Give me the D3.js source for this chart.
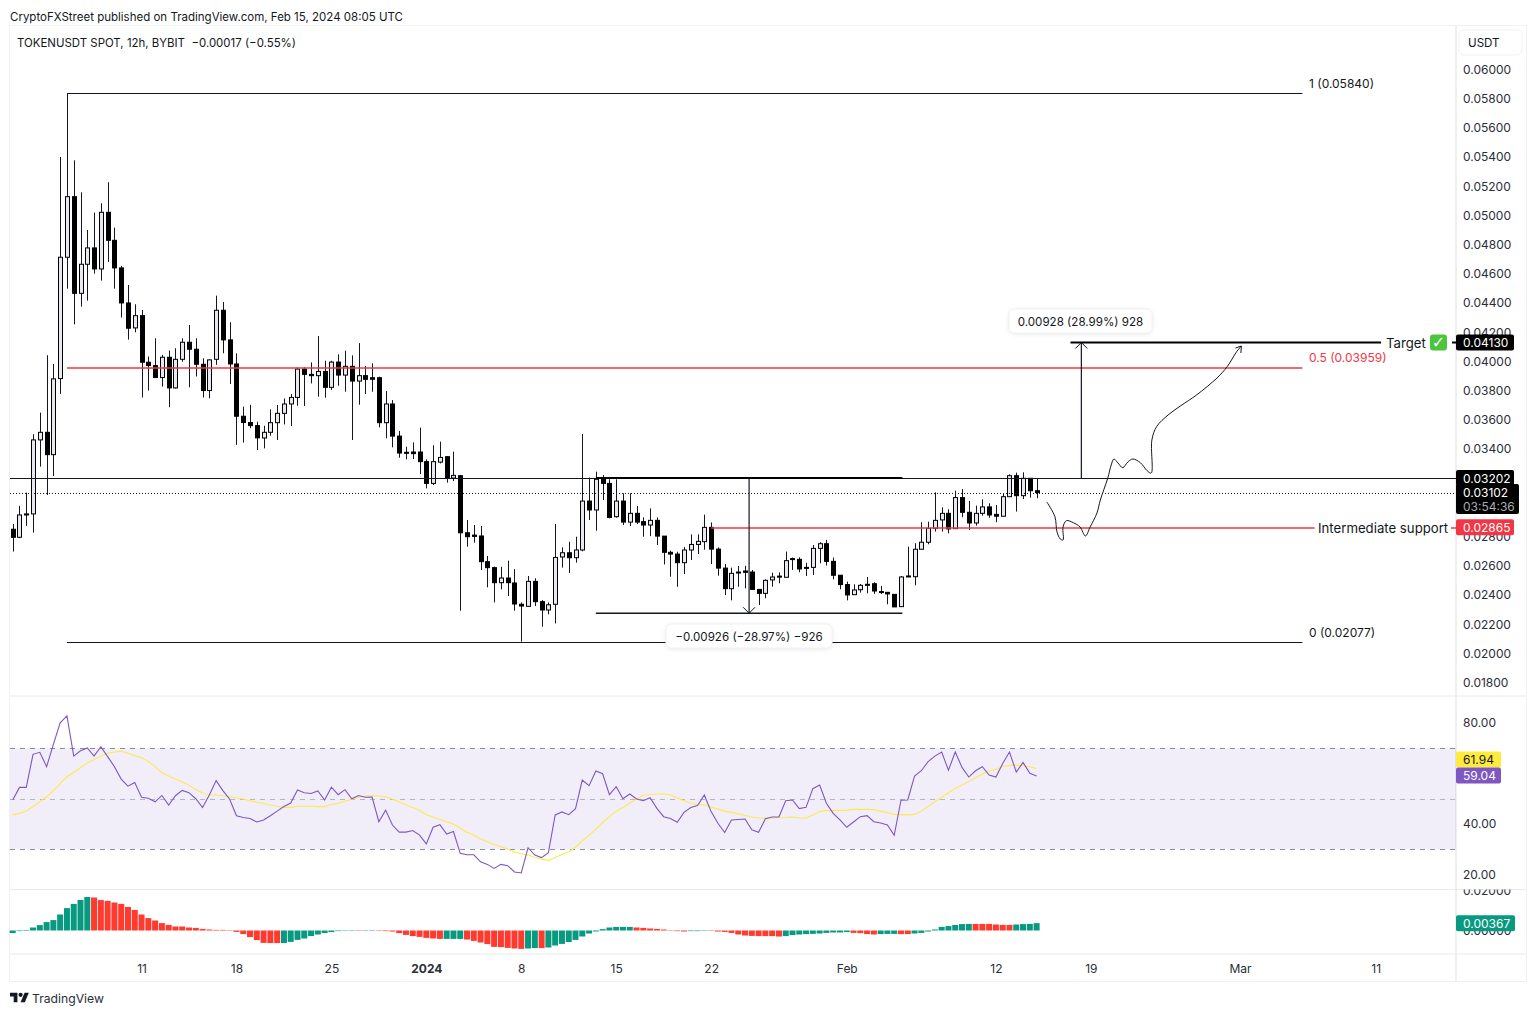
<!DOCTYPE html>
<html lang="en">
<head>
<meta charset="UTF-8">
<title>TOKENUSDT 12h</title>
<script src="https://cdn.jsdelivr.net/npm/d3@7"></script>
<style>
	html, body { margin: 0; padding: 0; background: #fff; }
	svg { display: block; }
	text { font-family: Inter, "Noto Sans", sans-serif; fill: #131722; }
	.axis text { font-size: 12px; fill: #2a2e39; font-family: Inter, "Noto Sans", sans-serif; }
	.axis path { display: none; }
</style>
</head>
<body>
<svg id="chart" width="1536" height="1015"></svg>
<script>
// candles, in ticks of 0.00001
var opens = [2851,2796,2949,2956,3463,3515,3362,3883,4714,5129,4467,4666,4778,4634,5022,4830,4641,4401,4230,4314,3995,3972,3890,4029,3819,4015,4132,4084,3981,3801,
	4015,4351,4148,3983,3625,3582,3561,3476,3515,3581,3645,3709,3754,3948,3912,3903,3932,3823,3996,3907,3967,3866,3903,3889,3889,3581,3709,3489,3378,3380,
	3380,3314,3165,3311,3348,3202,3218,2827,2811,2805,2629,2588,2485,2517,2483,2337,2323,2494,2355,2298,2337,2661,2690,2656,2709,3044,2983,3199,3165,2937,
	3044,2900,2960,2903,2880,2912,2804,2693,2681,2622,2709,2747,2766,2864,2715,2585,2444,2551,2565,2558,2439,2412,2504,2530,2522,2650,2645,2590,2590,2720,
	2752,2631,2536,2472,2403,2437,2474,2478,2424,2419,2405,2321,2531,2526,2714,2762,2857,2915,2960,2855,3068,2967,2894,2960,3004,2953,2940,3074,3218,3081,3200,3115];
var highs = [2887,3011,3102,3502,3650,4043,3983,5401,5415,5378,5159,4901,5020,5084,5228,4917,4655,4524,4392,4353,4034,4159,4045,4075,4091,4159,4250,4159,4022,4015,
	4451,4408,4269,4056,3691,3703,3588,3560,3672,3702,3747,3777,3960,3960,3994,4174,4005,4005,4049,4074,4042,4126,3969,3987,3896,3798,3736,3524,3416,3446,
	3547,3330,3426,3451,3353,3382,3222,2914,2880,2873,2668,2595,2594,2636,2578,2350,2531,2515,2366,2350,2887,2727,2766,2800,3503,3206,3245,3222,3193,3193,
	3097,3097,3010,2932,2994,2932,2804,2704,2697,2729,2816,2816,2951,2898,2727,2613,2588,2599,2601,2572,2439,2508,2554,2556,2698,2657,2659,2622,2743,2762,
	2778,2657,2538,2492,2474,2476,2524,2488,2462,2419,2405,2531,2732,2755,2899,2903,3104,3001,2988,3115,3127,3045,3013,3056,3029,3017,3097,3227,3239,3241,3200,3200];
var lows = [2698,2790,2874,2828,3280,3086,3216,3778,4499,4255,4376,4417,4602,4554,4682,4499,4301,4150,4200,3753,3801,3890,3828,3687,3815,3999,3824,3897,3753,3748,
	3977,4056,3846,3429,3445,3543,3394,3405,3492,3462,3569,3558,3697,3695,3850,3759,3752,3805,3834,3793,3462,3704,3777,3793,3549,3474,3412,3341,3330,3332,
	3229,3131,3154,3302,3170,3181,2293,2732,2759,2572,2453,2350,2439,2394,2293,2081,2320,2325,2184,2268,2206,2588,2551,2622,2700,2914,2841,3051,2926,2930,
	2880,2873,2887,2800,2804,2743,2610,2526,2457,2544,2640,2681,2711,2613,2533,2400,2364,2457,2446,2435,2332,2378,2458,2481,2522,2572,2556,2531,2538,2618,
	2602,2508,2440,2364,2403,2417,2412,2408,2408,2337,2319,2321,2526,2467,2714,2748,2835,2835,2823,2853,2933,2846,2876,2944,2930,2899,2940,3074,2972,3058,3068,3063];
var closes = [2796,2949,2956,3463,3515,3362,3881,4714,5129,4467,4666,4778,4634,5022,4830,4641,4401,4228,4314,3995,3972,3890,4029,3819,4015,4132,4084,3981,3801,4011,
	4351,4148,3983,3625,3582,3561,3477,3515,3581,3645,3709,3754,3948,3912,3903,3932,3823,3996,3907,3967,3866,3903,3878,3878,3581,3709,3489,3373,3373,3369,
	3314,3165,3314,3343,3202,3220,2827,2800,2802,2629,2588,2485,2517,2485,2339,2325,2494,2355,2298,2334,2658,2690,2656,2709,3044,2983,3193,3165,2932,3044,
	2900,2960,2900,2880,2912,2804,2693,2681,2622,2709,2747,2768,2864,2715,2585,2444,2549,2558,2556,2439,2412,2501,2524,2526,2636,2646,2579,2586,2720,2752,
	2631,2536,2472,2401,2435,2467,2470,2428,2420,2408,2319,2524,2526,2714,2762,2857,2912,2960,2853,3068,2967,2894,2960,3004,2949,2940,3074,3218,3081,3200,3115,3102];

var rsiValues = [49.5,54.5,54.5,67.6,68.4,62.7,71.5,80.1,82.8,66.9,69.0,70.1,66.9,70.6,66.7,62.7,57.8,55.0,56.4,50.6,50.2,48.8,51.3,47.5,51.2,53.3,52.4,50.0,46.5,51.5,
	57.2,53.2,49.8,43.3,42.6,42.2,40.8,41.6,43.3,45.1,46.9,48.3,53.5,52.4,52.1,53.1,49.5,54.6,51.6,53.6,50.0,51.3,50.6,50.7,40.9,45.5,39.6,36.8,36.8,37.4,
	35.6,32.1,38.7,39.7,36.0,37.0,28.4,27.8,27.8,25.0,24.0,22.4,24.0,23.5,21.0,20.6,30.6,27.7,26.7,28.6,43.6,44.8,43.7,46.1,57.4,55.2,61.0,59.9,51.6,54.8,
	50.0,51.9,49.9,49.2,50.4,46.2,42.9,42.2,40.7,44.6,46.5,47.3,51.5,44.9,40.3,36.6,41.6,41.8,42.0,37.7,36.7,42.1,42.8,42.8,49.2,49.5,46.1,46.6,54.0,55.4,
	48.2,44.2,41.6,38.7,40.8,42.9,43.3,40.9,40.4,39.6,35.5,49.4,49.5,59.0,61.1,64.7,66.9,68.5,61.3,68.5,62.4,58.6,61.1,62.7,59.4,58.6,64.0,68.5,60.6,64.4,60.1,59.04];
var rsiAverage = [43.6,44.2,45.1,46.9,48.8,50.8,53.1,56.1,58.7,60.5,62.3,64.2,65.5,66.8,68.0,68.5,68.8,68.0,67.0,66.3,64.7,62.7,60.3,59.0,57.8,56.6,55.4,53.7,52.3,51.6,
	51.5,51.2,50.8,50.3,49.9,49.2,48.6,48.2,47.5,47.0,46.6,46.6,47.0,47.1,47.0,46.9,46.9,47.7,48.2,49.0,49.8,50.6,51.1,51.2,51.1,50.8,49.9,48.7,47.5,46.5,
	45.4,43.7,42.8,41.8,40.9,39.9,38.3,36.7,35.6,34.2,33.0,31.9,31.0,30.1,28.9,28.2,27.7,26.8,26.1,25.6,26.7,27.9,29.0,30.8,33.3,35.5,38.0,40.5,42.9,45.1,
	46.5,48.3,49.9,51.4,51.7,51.9,51.9,51.6,50.3,49.2,48.2,47.7,47.5,46.7,45.9,45.1,44.6,44.0,43.4,42.8,42.4,42.4,42.4,42.5,42.6,42.8,42.4,42.4,43.6,44.9,
	45.4,45.4,45.4,45.5,45.8,45.8,45.8,45.7,45.1,44.5,43.8,43.7,43.6,43.8,45.1,46.9,48.8,50.6,52.4,54.1,55.4,56.8,58.3,59.7,61.1,61.6,62.8,63.2,63.4,63.1,62.7,61.94];

// histogram, in 0.0001
var histValues = [-13,-3,3,15,27,42,52,80,112,133,153,168,165,152,148,140,133,118,103,80,62,50,37,28,20,20,15,13,8,5,
	3,3,2,-7,-18,-33,-48,-62,-63,-63,-63,-57,-47,-40,-28,-20,-13,-8,-3,-2,2,-2,-2,-2,-2,-3,-5,-13,-22,-28,
	-32,-37,-40,-42,-42,-42,-42,-45,-52,-60,-68,-82,-83,-87,-90,-92,-90,-88,-88,-85,-75,-67,-58,-47,-30,-15,-5,7,15,18,
	18,18,15,13,10,8,5,2,-3,-5,-3,-3,-2,-2,-5,-7,-12,-20,-25,-27,-28,-28,-28,-30,-28,-23,-20,-18,-17,-15,
	-12,-10,-10,-8,-12,-13,-18,-20,-18,-17,-17,-18,-18,-15,-12,-5,5,18,22,28,32,33,33,33,33,30,28,28,30,32,33,36.7];
// bar numbers (from 1) where the histogram is red, the others are green
var histRedRanges = [[13,40],[52,52],[55,64],[68,76],[79,79],[93,100],[104,114],[125,128],[132,133],[143,148]];

var priceTicks = [0.06,0.058,0.056,0.054,0.052,0.05,0.048,0.046,0.044,0.042,0.04,0.038,0.036,0.034,0.028,0.026,0.024,0.022,0.02,0.018];
var rsiTicks = [80, 40, 20];
var histTicks = [0.02, 0];
var timeTicks = [new Date(Date.UTC(2023,11,11)), new Date(Date.UTC(2023,11,18)), new Date(Date.UTC(2023,11,25)), new Date(Date.UTC(2024,0,1)),
	new Date(Date.UTC(2024,0,8)), new Date(Date.UTC(2024,0,15)), new Date(Date.UTC(2024,0,22)), new Date(Date.UTC(2024,1,1)),
	new Date(Date.UTC(2024,1,12)), new Date(Date.UTC(2024,1,19)), new Date(Date.UTC(2024,2,1)), new Date(Date.UTC(2024,2,11))];
var timeLabels = ["11","18","25","2024","8","15","22","Feb","12","19","Mar","11"];

// hand drawn forecast: bar number and price ticks
var sketchBars = [152.5,153.7,154.0,154.5,154.9,154.9,155.4,156.4,157.4,158.2,158.9,159.9,160.4,161.5,162.0,162.4,163.0,163.7,164.5,165.2,166.3,167.3,167.9,168.0,168.7,170.4,172.2,174.6,177.6,179.1,180.5,181.2];
var sketchPrices = [3038,2937,2834,2784,2778,2867,2910,2896,2867,2805,2867,2962,3051,3202,3291,3332,3305,3273,3314,3332,3307,3252,3236,3462,3554,3634,3695,3771,3887,3964,4067,4106];

var fibPrices = [0.0584, 0.03959, 0.02077];
var fibLabels = ["1 (0.05840)", "0.5 (0.03959)", "0 (0.02077)"];
var lastPrice = 0.03102, resistance = 0.03202, support = 0.02865, target = 0.0413, boxLow = 0.02276;

var tick = 0.00001;
var left = 10, right = 1456, outer = 1526, top_ = 26, bottom = 981;
var priceBottom = 696, rsiBottom = 889.5, histBottom = 954;
var darkLine = "#131722", red = "#f23645", teal = "#089981";

var svg = d3.select("#chart");

var startTime = Date.UTC(2023, 11, 1, 12);
var barDate = function(i) { return new Date(startTime + i * 12 * 3600 * 1000); };
var x = d3.scaleUtc().domain([barDate(0), barDate(151)]).range([12.7, 1036.6]);
var barX = function(i) { return x(barDate(i)); };
var yPrice = d3.scaleLinear().domain([0.018, 0.06]).range([682.7, 69.5]);
var yRsi = d3.scaleLinear().domain([20, 80]).range([874.5, 723]);
var yHist = d3.scaleLinear().domain([0, 0.02]).range([930.5, 890.5]);
// put one pixel lines on a pixel row
var crisp = function(v) { return Math.round(v) + .5; };

/* frame */
var frame = svg.append("g").attr("stroke", "#e9eaed").attr("fill", "none");
frame.append("rect").attr("x", left - .5).attr("y", top_ - .5).attr("width", outer - left + 1).attr("height", bottom - top_ + 1).attr("stroke", "#f0f1f3");
[priceBottom, rsiBottom, histBottom].forEach(function(py) {
	frame.append("line").attr("x1", left).attr("x2", outer).attr("y1", py).attr("y2", py);
});
frame.append("line").attr("x1", right).attr("x2", right).attr("y1", top_).attr("y2", bottom).attr("stroke-width", 1.5);

/* RSI band, below the lines */
svg.append("rect").attr("x", left).attr("width", right - left)
	.attr("y", yRsi(70)).attr("height", yRsi(30) - yRsi(70)).attr("fill", "#7e57c2").attr("opacity", 0.1);
svg.selectAll(".band").data([70, 50, 30]).enter().append("line")
	.attr("x1", left).attr("x2", right)
	.attr("y1", function(d) { return crisp(yRsi(d)); }).attr("y2", function(d) { return crisp(yRsi(d)); })
	.attr("stroke", "#787b86").attr("stroke-opacity", function(d) { return d == 50 ? 0.5 : 0.85; })
	.attr("stroke-dasharray", "5 5");

/* candles */
var candles = svg.append("g").selectAll("g").data(opens).enter().append("g");
candles.append("line")
	.attr("x1", function(d, i) { return Math.round(barX(i)) + .5; })
	.attr("x2", function(d, i) { return Math.round(barX(i)) + .5; })
	.attr("y1", function(d, i) { return yPrice(highs[i] * tick); })
	.attr("y2", function(d, i) { return yPrice(lows[i] * tick); })
	.attr("stroke", darkLine);
candles.append("rect")
	.attr("x", function(d, i) { return Math.round(barX(i)) - 1.5; })
	.attr("width", 4)
	.attr("y", function(d, i) { return yPrice(Math.max(d, closes[i]) * tick); })
	.attr("height", function(d, i) { return Math.max(1, Math.abs(yPrice(d * tick) - yPrice(closes[i] * tick))); })
	.attr("fill", function(d, i) { return closes[i] >= d ? "#e8e9f0" : "#000"; })
	.attr("stroke", "#000");

/* fib levels */
var fibLine = svg.append("g");
fibLine.selectAll("line").data(fibPrices).enter().append("line")
	.attr("x1", barX(8)).attr("x2", barX(190.2))
	.attr("y1", function(d, i) { return i == 1 ? Math.round(yPrice(d)) + 1 : crisp(yPrice(d)); })
	.attr("y2", function(d, i) { return i == 1 ? Math.round(yPrice(d)) + 1 : crisp(yPrice(d)); })
	.attr("stroke-width", function(d, i) { return i == 1 ? 1.5 : 1; })
	.attr("stroke", function(d, i) { return i == 1 ? red : darkLine; });
fibLine.append("line").attr("x1", crisp(barX(8))).attr("x2", crisp(barX(8))).attr("y1", crisp(yPrice(0.0584))).attr("y2", yPrice(0.0513)).attr("stroke", darkLine);
fibLine.selectAll("text").data(fibLabels).enter().append("text")
	.attr("x", 1309)
	.attr("y", function(d, i) { return yPrice(fibPrices[i]) - 5; })
	.attr("font-size", 12)
	.style("fill", function(d, i) { return i == 1 ? red : darkLine; })
	.text(function(d) { return d; });

/* support and resistance */
svg.append("line").attr("x1", left).attr("x2", right).attr("y1", crisp(yPrice(resistance))).attr("y2", crisp(yPrice(resistance))).attr("stroke", darkLine);
svg.append("line").attr("x1", left).attr("x2", right).attr("y1", crisp(yPrice(lastPrice))).attr("y2", crisp(yPrice(lastPrice))).attr("stroke", darkLine).attr("stroke-dasharray", "1 2");
svg.append("line").attr("x1", barX(103)).attr("x2", barX(192)).attr("y1", Math.round(yPrice(support)) + 1).attr("y2", Math.round(yPrice(support)) + 1).attr("stroke", red).attr("stroke-width", 1.5);
svg.append("line").attr("x1", 1451).attr("x2", right).attr("y1", Math.round(yPrice(support)) + 1).attr("y2", Math.round(yPrice(support)) + 1).attr("stroke", red).attr("stroke-width", 1.5);
svg.append("text").attr("x", 1318).attr("y", yPrice(support) + 6).attr("font-size", 13.2).text("Intermediate support");

/* target */
svg.append("line").attr("x1", barX(156)).attr("x2", barX(201.8)).attr("y1", yPrice(target)).attr("y2", yPrice(target)).attr("stroke", "#000").attr("stroke-width", 2);
svg.append("line").attr("x1", 1452).attr("x2", right).attr("y1", yPrice(target)).attr("y2", yPrice(target)).attr("stroke", "#000").attr("stroke-width", 2);
svg.append("text").attr("x", 1386).attr("y", yPrice(target) + 5).attr("font-size", 13.2).text("Target");
svg.append("rect").attr("x", 1430).attr("y", yPrice(target) - 8).attr("width", 17).attr("height", 16).attr("rx", 3).attr("fill", "#4cc43c");
svg.append("text").attr("x", 1438.5).attr("y", yPrice(target) + 5.5).attr("text-anchor", "middle").attr("font-size", 16).attr("font-weight", "bold")
	.style("font-family", "'DejaVu Sans'").style("fill", "#fff").text("\u2713");

/* price range measures */
var chevron = function(px, py, dir) {
	return "M" + (px - 6) + "," + (py + dir * 6) + "L" + px + "," + py + "L" + (px + 6) + "," + (py + dir * 6);
};
svg.append("line").attr("x1", barX(157.6)).attr("x2", barX(157.6)).attr("y1", yPrice(resistance)).attr("y2", yPrice(target)).attr("stroke", darkLine).attr("stroke-width", 1.2);
svg.append("path").attr("d", chevron(barX(157.6), yPrice(target), 1)).attr("fill", "none").attr("stroke", darkLine);
svg.append("line").attr("x1", barX(108.6)).attr("x2", barX(108.6)).attr("y1", yPrice(resistance)).attr("y2", yPrice(boxLow)).attr("stroke", darkLine).attr("stroke-width", 1.2);
svg.append("path").attr("d", chevron(barX(108.6), yPrice(boxLow), -1)).attr("fill", "none").attr("stroke", darkLine);
svg.append("line").attr("x1", barX(86)).attr("x2", barX(131.2)).attr("y1", yPrice(resistance)).attr("y2", yPrice(resistance)).attr("stroke", "#000").attr("stroke-width", 2);
svg.append("line").attr("x1", barX(86)).attr("x2", barX(131.2)).attr("y1", yPrice(boxLow)).attr("y2", yPrice(boxLow)).attr("stroke", darkLine).attr("stroke-width", 1.4);

var labelBox = function(bx, by, bw, txt) {
	svg.append("rect").attr("x", bx).attr("y", by).attr("width", bw).attr("height", 24).attr("rx", 5)
		.attr("fill", "#fff").attr("stroke", "#f0f1f3").style("filter", "drop-shadow(0 1px 2px rgba(0,0,0,.08))");
	svg.append("text").attr("x", bx + bw / 2).attr("y", by + 16.5).attr("text-anchor", "middle").attr("font-size", 11.6).text(txt);
};
labelBox(1009, 309, 143, "0.00928 (28.99%) 928");
labelBox(666, 624, 166, "\u22120.00926 (\u221228.97%) \u2212926");

/* forecast sketch */
var sketchLine = d3.line()
	.x(function(d) { return barX(d); })
	.y(function(d, i) { return yPrice(sketchPrices[i] * tick); })
	.curve(d3.curveCatmullRom);
svg.append("path").attr("d", sketchLine(sketchBars)).attr("fill", "none").attr("stroke", darkLine);
var sketchEndX = barX(sketchBars[31]), sketchEndY = yPrice(sketchPrices[31] * tick);
svg.append("path").attr("d", "M" + (sketchEndX - 6) + "," + (sketchEndY + 2) + "L" + sketchEndX + "," + sketchEndY + "L" + (sketchEndX - .5) + "," + (sketchEndY + 7))
	.attr("fill", "none").attr("stroke", darkLine);

/* RSI lines */
var rsiLine = d3.line().x(function(d, i) { return barX(i); }).y(function(d) { return yRsi(d); });
svg.append("path").attr("d", rsiLine(rsiAverage)).attr("fill", "none").attr("stroke", "#fde94f").attr("stroke-width", 1.1);
svg.append("path").attr("d", rsiLine(rsiValues)).attr("fill", "none").attr("stroke", "#7e57c2").attr("stroke-width", 1.1);

/* histogram */
var isRed = function(n) {
	return histRedRanges.some(function(r) { return n >= r[0] && n <= r[1]; });
};
svg.append("g").selectAll("rect").data(histValues).enter().append("rect")
	.attr("x", function(d, i) { return barX(i) - 3; })
	.attr("width", 6)
	.attr("y", function(d) { return Math.min(yHist(d / 10000), yHist(0)); })
	.attr("height", function(d) { return Math.abs(yHist(d / 10000) - yHist(0)); })
	.attr("fill", function(d, i) { return isRed(i + 1) ? "#ff3b30" : teal; });

/* axes */
var priceAxis = d3.axisRight(yPrice).tickValues(priceTicks).tickSize(0).tickPadding(7).tickFormat(d3.format(".5f"));
svg.append("g").attr("class", "axis").attr("transform", "translate(" + right + ",0)").call(priceAxis);
var rsiAxis = d3.axisRight(yRsi).tickValues(rsiTicks).tickSize(0).tickPadding(7).tickFormat(d3.format(".2f"));
svg.append("g").attr("class", "axis").attr("transform", "translate(" + right + ",0)").call(rsiAxis);

svg.append("clipPath").attr("id", "histClip").append("rect").attr("x", right).attr("y", rsiBottom).attr("width", outer - right).attr("height", histBottom - rsiBottom);
var histAxis = d3.axisRight(yHist).tickValues(histTicks).tickSize(0).tickPadding(7).tickFormat(d3.format(".5f"));
svg.append("g").attr("class", "axis").attr("clip-path", "url(#histClip)").append("g").attr("transform", "translate(" + right + ",0)").call(histAxis);

var timeAxis = d3.axisBottom(x).tickValues(timeTicks).tickSize(0).tickPadding(10).tickFormat(function(d, i) { return timeLabels[i]; });
var timeG = svg.append("g").attr("class", "axis").attr("transform", "translate(0," + histBottom + ")").call(timeAxis);
timeG.selectAll("text").attr("font-weight", function(d, i) { return timeLabels[i] == "2024" ? "bold" : null; });

/* price axis labels */
svg.append("rect").attr("x", 1459).attr("y", 30).attr("width", 63).attr("height", 25).attr("rx", 5).attr("fill", "#fff").attr("stroke", "#f0f1f3");
svg.append("text").attr("x", 1468).attr("y", 47).attr("font-size", 11.6).text("USDT");

var axisBox = function(cy, bw, bh, fill, color, lines) {
	svg.append("rect").attr("x", right).attr("y", cy - bh / 2).attr("width", bw).attr("height", bh).attr("rx", 2).attr("fill", fill);
	lines.forEach(function(l, i) {
		svg.append("text").attr("x", right + 7).attr("y", cy - bh / 2 + 12.5 + i * 14)
			.attr("font-size", 12).style("fill", i == 1 ? "#a9abb3" : color).text(l);
	});
};
axisBox(yPrice(target), 58, 16, "#000", "#fff", ["0.04130"]);
axisBox(yPrice(resistance), 58, 16, "#000", "#fff", ["0.03202"]);
axisBox(499, 63, 30, "#000", "#fff", ["0.03102", "03:54:36"]);
axisBox(yPrice(support), 58, 16, red, "#fff", ["0.02865"]);
// the two RSI labels are pushed apart so that both can be read
axisBox(759.5, 45, 16, "#ffeb3b", "#131722", ["61.94"]);
axisBox(775.5, 45, 16, "#7e57c2", "#fff", ["59.04"]);
axisBox(yHist(0.00367), 59, 16, teal, "#fff", ["0.00367"]);

/* headers */
svg.append("text").attr("x", 10).attr("y", 21).attr("font-size", 11.5).text("CryptoFXStreet published on TradingView.com, Feb 15, 2024 08:05 UTC");
svg.append("text").attr("x", 17).attr("y", 47).attr("font-size", 11.45).text("TOKENUSDT SPOT, 12h, BYBIT  \u22120.00017 (\u22120.55%)").attr("xml:space", "preserve");

/* logo */
var logo = svg.append("g").attr("transform", "translate(10,989.5) scale(0.53)");
logo.append("path").attr("d", "M14 6H0v7h7v11h7V6Z").attr("fill", "#131722");
logo.append("path").attr("d", "M28 24h-8l7.5-18h8L28 24Z").attr("fill", "#131722");
logo.append("circle").attr("cx", 20).attr("cy", 10).attr("r", 4).attr("fill", "#131722");
svg.append("text").attr("x", 32).attr("y", 1002.5).attr("font-size", 12.2).style("fill", "#2a2e39").text("TradingView");
</script>
</body>
</html>
